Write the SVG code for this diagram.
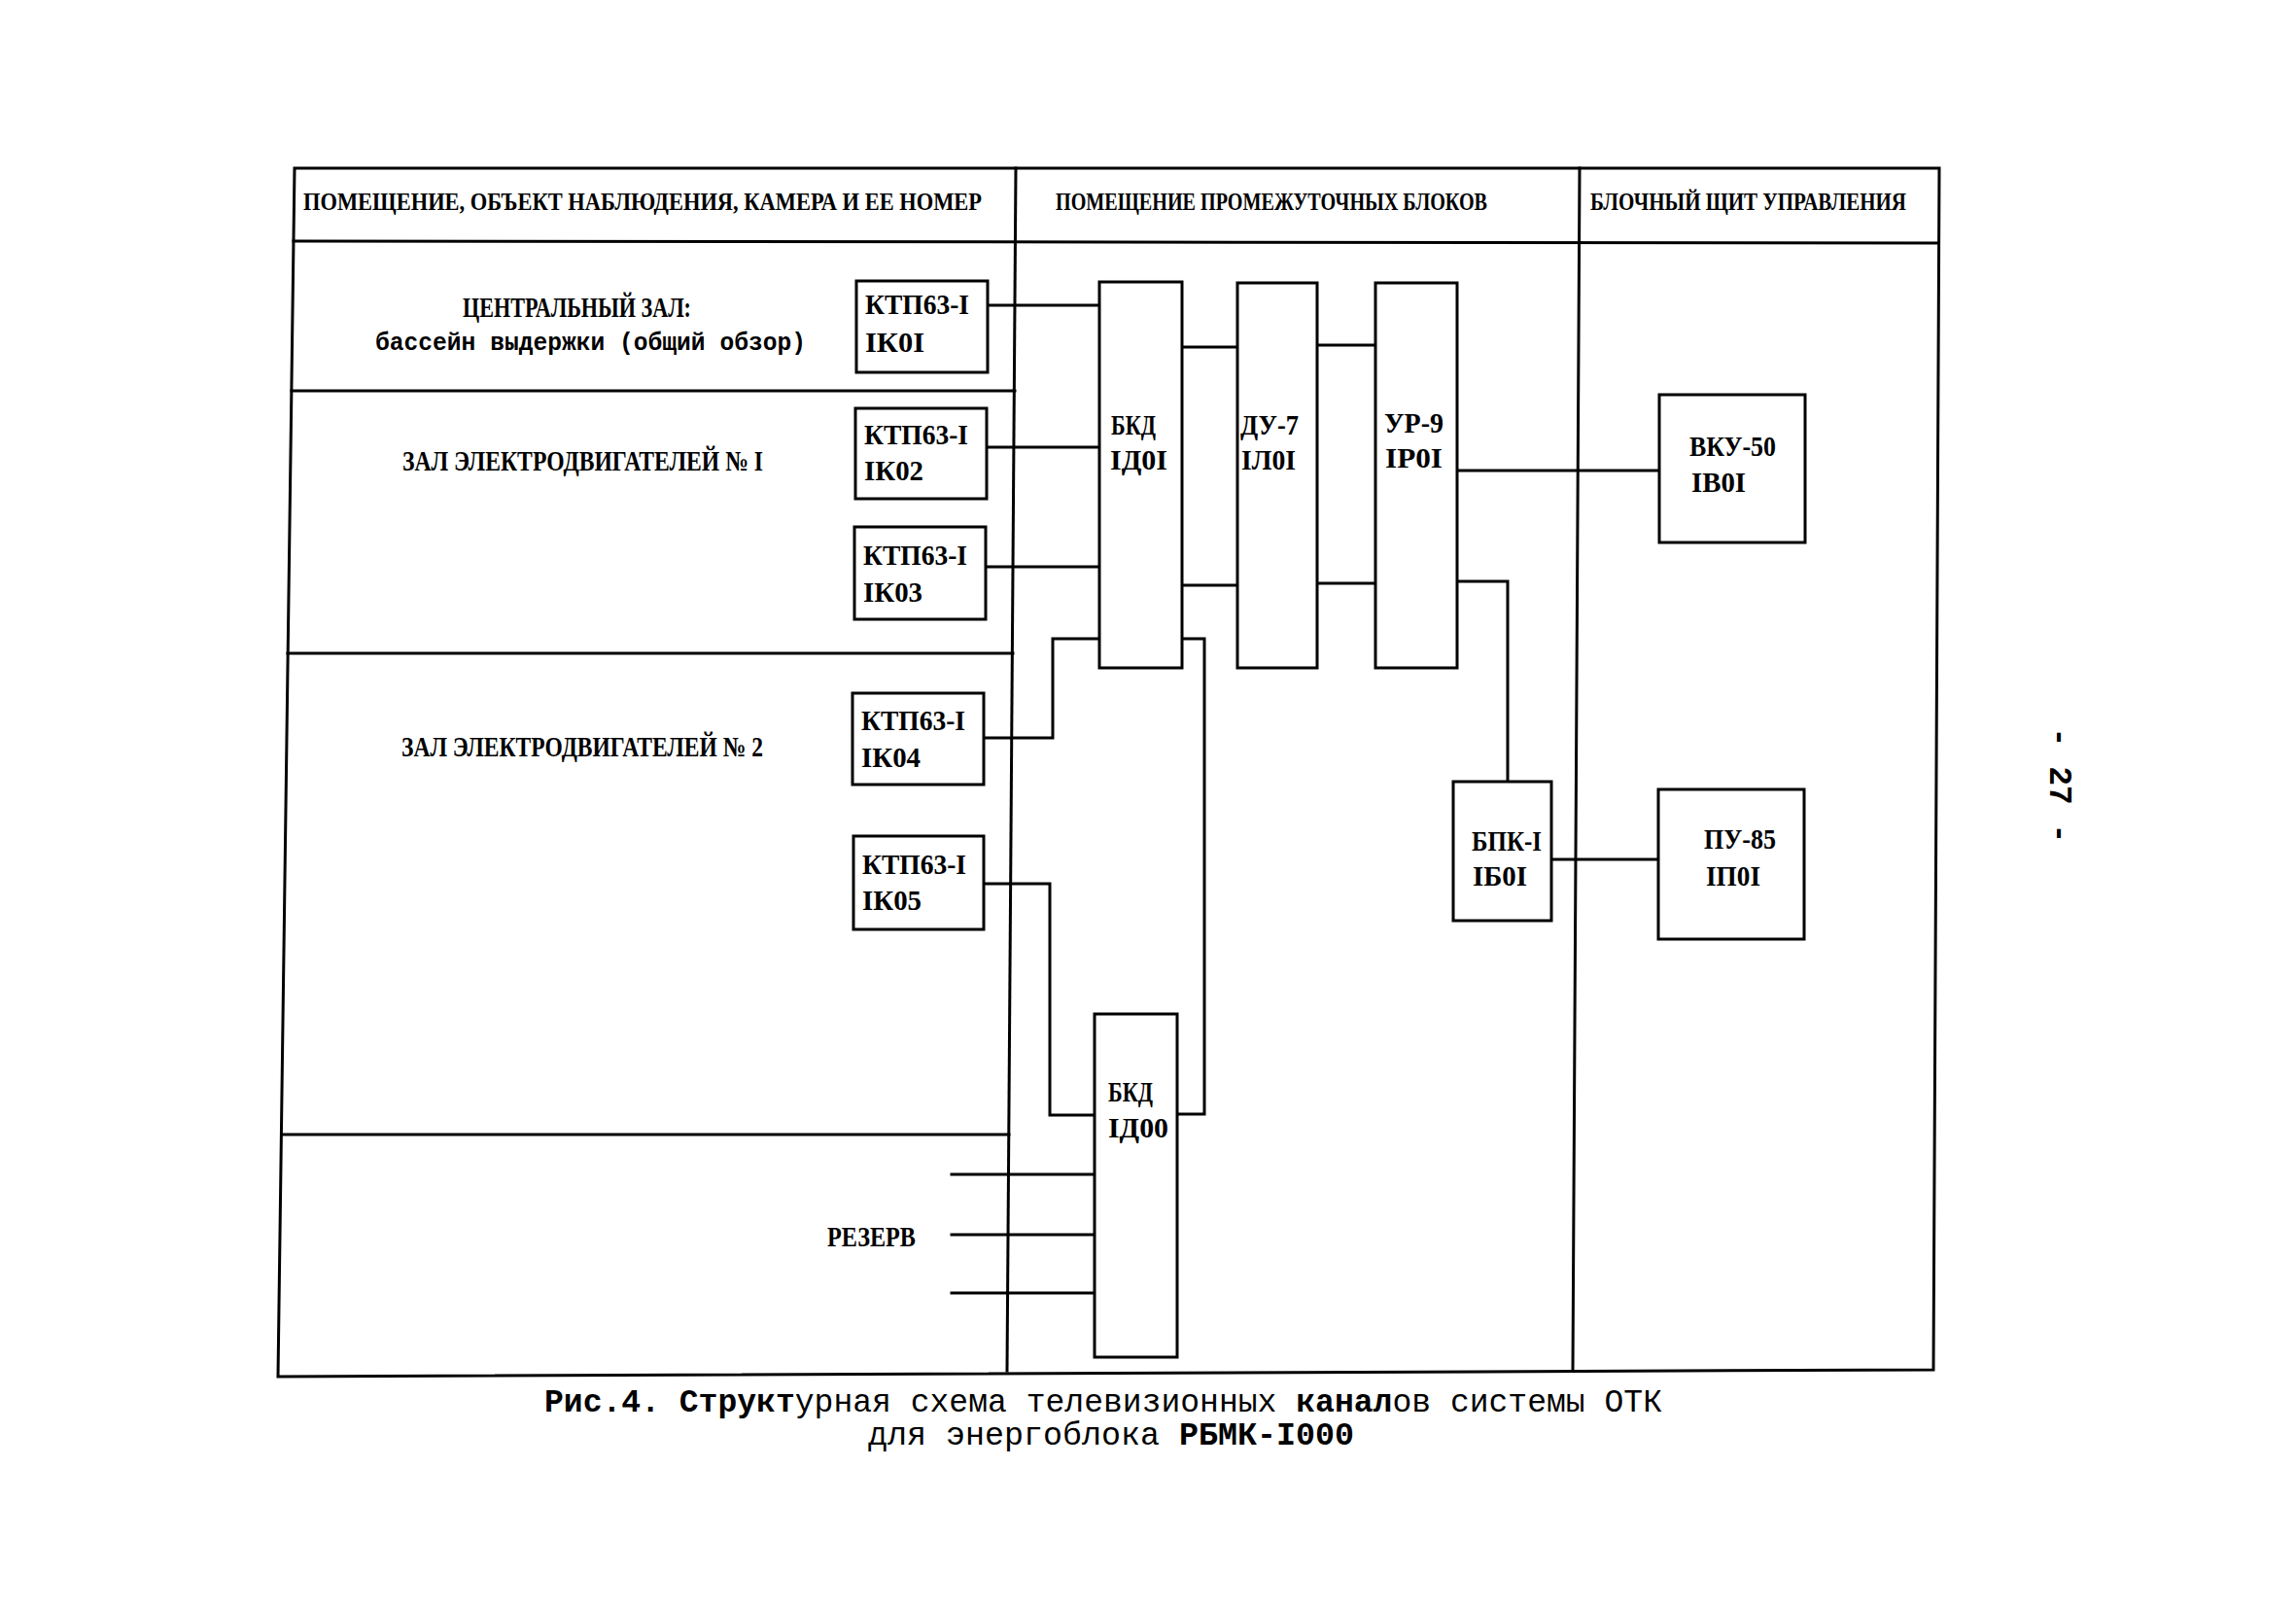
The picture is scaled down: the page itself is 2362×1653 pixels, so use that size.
<svg xmlns="http://www.w3.org/2000/svg" width="2362" height="1653" viewBox="0 0 2362 1653">
<style>
.ln{fill:none;stroke:#000;stroke-width:3;stroke-linejoin:miter;stroke-linecap:square}
.bx{fill:#fff;stroke:#000;stroke-width:3}
.t{font-family:"Liberation Serif","DejaVu Serif",serif;font-weight:bold;font-size:29px;fill:#000}
.h{font-family:"Liberation Serif","DejaVu Serif",serif;font-weight:bold;font-size:26px;fill:#000}
.m{font-family:"Liberation Mono","DejaVu Sans Mono",monospace;font-weight:bold;font-size:25px;fill:#000}
.c{font-family:"Liberation Mono","DejaVu Sans Mono",monospace;font-size:33px;fill:#000}
.b{font-weight:bold}
</style>
<rect width="2362" height="1653" fill="#fff"/>
<g id="frame">
<path class="ln" d="M303,173 L1995,173 L1989,1409 L286,1416 Z"/>
<path class="ln" d="M302,248 L1994,250"/>
<path class="ln" d="M1045,173 L1036,1410"/>
<path class="ln" d="M1625,173 L1618,1409"/>
<path class="ln" d="M300,402 L1044,402"/>
<path class="ln" d="M296,672 L1042,672"/>
<path class="ln" d="M290,1167 L1038,1167"/>
<text class="h" x="312" y="216" textLength="698" lengthAdjust="spacingAndGlyphs">ПОМЕЩЕНИЕ, ОБЪЕКТ НАБЛЮДЕНИЯ, КАМЕРА И ЕЕ НОМЕР</text>
<text class="h" x="1086" y="216" textLength="444" lengthAdjust="spacingAndGlyphs">ПОМЕЩЕНИЕ ПРОМЕЖУТОЧНЫХ БЛОКОВ</text>
<text class="h" x="1636" y="216" textLength="325" lengthAdjust="spacingAndGlyphs">БЛОЧНЫЙ ЩИТ УПРАВЛЕНИЯ</text>
</g>
<g id="rooms">
<text class="t" x="476" y="326" textLength="235" lengthAdjust="spacingAndGlyphs">ЦЕНТРАЛЬНЫЙ ЗАЛ:</text>
<text class="m" x="386" y="360" textLength="443" lengthAdjust="spacingAndGlyphs">бассейн выдержки (общий обзор)</text>
<text class="t" x="414" y="484" textLength="371" lengthAdjust="spacingAndGlyphs">ЗАЛ ЭЛЕКТРОДВИГАТЕЛЕЙ № I</text>
<text class="t" x="413" y="778" textLength="372" lengthAdjust="spacingAndGlyphs">ЗАЛ ЭЛЕКТРОДВИГАТЕЛЕЙ № 2</text>
<text class="t" x="851" y="1282" textLength="91" lengthAdjust="spacingAndGlyphs">РЕЗЕРВ</text>
</g>
<g id="connectors">
<path class="ln" d="M1016,314 L1131,314"/>
<path class="ln" d="M1015,460 L1131,460"/>
<path class="ln" d="M1014,583 L1131,583"/>
<path class="ln" d="M1012,759 L1083,759 L1083,657 L1131,657"/>
<path class="ln" d="M1216,657 L1239,657 L1239,1146 L1211,1146"/>
<path class="ln" d="M1012,909 L1080,909 L1080,1147 L1126,1147"/>
<path class="ln" d="M1216,357 L1273,357"/>
<path class="ln" d="M1355,355 L1415,355"/>
<path class="ln" d="M1216,602 L1273,602"/>
<path class="ln" d="M1355,600 L1415,600"/>
<path class="ln" d="M1499,484 L1707,484"/>
<path class="ln" d="M1499,598 L1551,598 L1551,804"/>
<path class="ln" d="M1596,884 L1706,884"/>
<path class="ln" d="M979,1208 L1126,1208"/>
<path class="ln" d="M979,1270 L1126,1270"/>
<path class="ln" d="M979,1330 L1126,1330"/>
</g>
<g id="ik01">
<rect class="bx" x="881" y="289" width="135" height="94"/>
<text class="t" x="890" y="323" textLength="107" lengthAdjust="spacingAndGlyphs">КТП63-I</text>
<text class="t" x="890" y="362" textLength="61" lengthAdjust="spacingAndGlyphs">IК0I</text>
</g>
<g id="ik02">
<rect class="bx" x="880" y="420" width="135" height="93"/>
<text class="t" x="889" y="457" textLength="107" lengthAdjust="spacingAndGlyphs">КТП63-I</text>
<text class="t" x="889" y="494" textLength="61" lengthAdjust="spacingAndGlyphs">IК02</text>
</g>
<g id="ik03">
<rect class="bx" x="879" y="542" width="135" height="95"/>
<text class="t" x="888" y="581" textLength="107" lengthAdjust="spacingAndGlyphs">КТП63-I</text>
<text class="t" x="888" y="619" textLength="61" lengthAdjust="spacingAndGlyphs">IК03</text>
</g>
<g id="ik04">
<rect class="bx" x="877" y="713" width="135" height="94"/>
<text class="t" x="886" y="751" textLength="107" lengthAdjust="spacingAndGlyphs">КТП63-I</text>
<text class="t" x="886" y="789" textLength="61" lengthAdjust="spacingAndGlyphs">IК04</text>
</g>
<g id="ik05">
<rect class="bx" x="878" y="860" width="134" height="96"/>
<text class="t" x="887" y="899" textLength="107" lengthAdjust="spacingAndGlyphs">КТП63-I</text>
<text class="t" x="887" y="936" textLength="61" lengthAdjust="spacingAndGlyphs">IК05</text>
</g>
<g id="bkd1d01">
<rect class="bx" x="1131" y="290" width="85" height="397"/>
<text class="t" x="1143" y="447" textLength="46" lengthAdjust="spacingAndGlyphs">БКД</text>
<text class="t" x="1142" y="483" textLength="59" lengthAdjust="spacingAndGlyphs">IД0I</text>
</g>
<g id="du7">
<rect class="bx" x="1273" y="291" width="82" height="396"/>
<text class="t" x="1276" y="447" textLength="60" lengthAdjust="spacingAndGlyphs">ДУ-7</text>
<text class="t" x="1277" y="483" textLength="56" lengthAdjust="spacingAndGlyphs">IЛ0I</text>
</g>
<g id="ur9">
<rect class="bx" x="1415" y="291" width="84" height="396"/>
<text class="t" x="1424" y="445" textLength="61" lengthAdjust="spacingAndGlyphs">УР-9</text>
<text class="t" x="1425" y="481" textLength="59" lengthAdjust="spacingAndGlyphs">IР0I</text>
</g>
<g id="vku50">
<rect class="bx" x="1707" y="406" width="150" height="152"/>
<text class="t" x="1738" y="469" textLength="89" lengthAdjust="spacingAndGlyphs">ВКУ-50</text>
<text class="t" x="1740" y="506" textLength="56" lengthAdjust="spacingAndGlyphs">IВ0I</text>
</g>
<g id="bpk1">
<rect class="bx" x="1495" y="804" width="101" height="143"/>
<text class="t" x="1514" y="875" textLength="72" lengthAdjust="spacingAndGlyphs">БПК-I</text>
<text class="t" x="1515" y="911" textLength="56" lengthAdjust="spacingAndGlyphs">IБ0I</text>
</g>
<g id="pu85">
<rect class="bx" x="1706" y="812" width="150" height="154"/>
<text class="t" x="1753" y="873" textLength="74" lengthAdjust="spacingAndGlyphs">ПУ-85</text>
<text class="t" x="1755" y="911" textLength="56" lengthAdjust="spacingAndGlyphs">IП0I</text>
</g>
<g id="bkd1d00">
<rect class="bx" x="1126" y="1043" width="85" height="353"/>
<text class="t" x="1140" y="1133" textLength="46" lengthAdjust="spacingAndGlyphs">БКД</text>
<text class="t" x="1140" y="1170" textLength="62" lengthAdjust="spacingAndGlyphs">IД00</text>
</g>
<g id="caption">
<text class="c" x="560" y="1452" textLength="1150" lengthAdjust="spacingAndGlyphs"><tspan class="b">Рис.4. Структ</tspan>урная схема телевизионных <tspan class="b">канал</tspan>ов системы ОТК</text>
<text class="c" x="893" y="1486" textLength="500" lengthAdjust="spacingAndGlyphs">для энергоблока <tspan class="b">РБМК-I000</tspan></text>
</g>
<g id="pagenum">
<text class="c b" transform="translate(2109,808) rotate(90)" text-anchor="middle" x="0" y="0">- 27 -</text>
</g>
</svg>
